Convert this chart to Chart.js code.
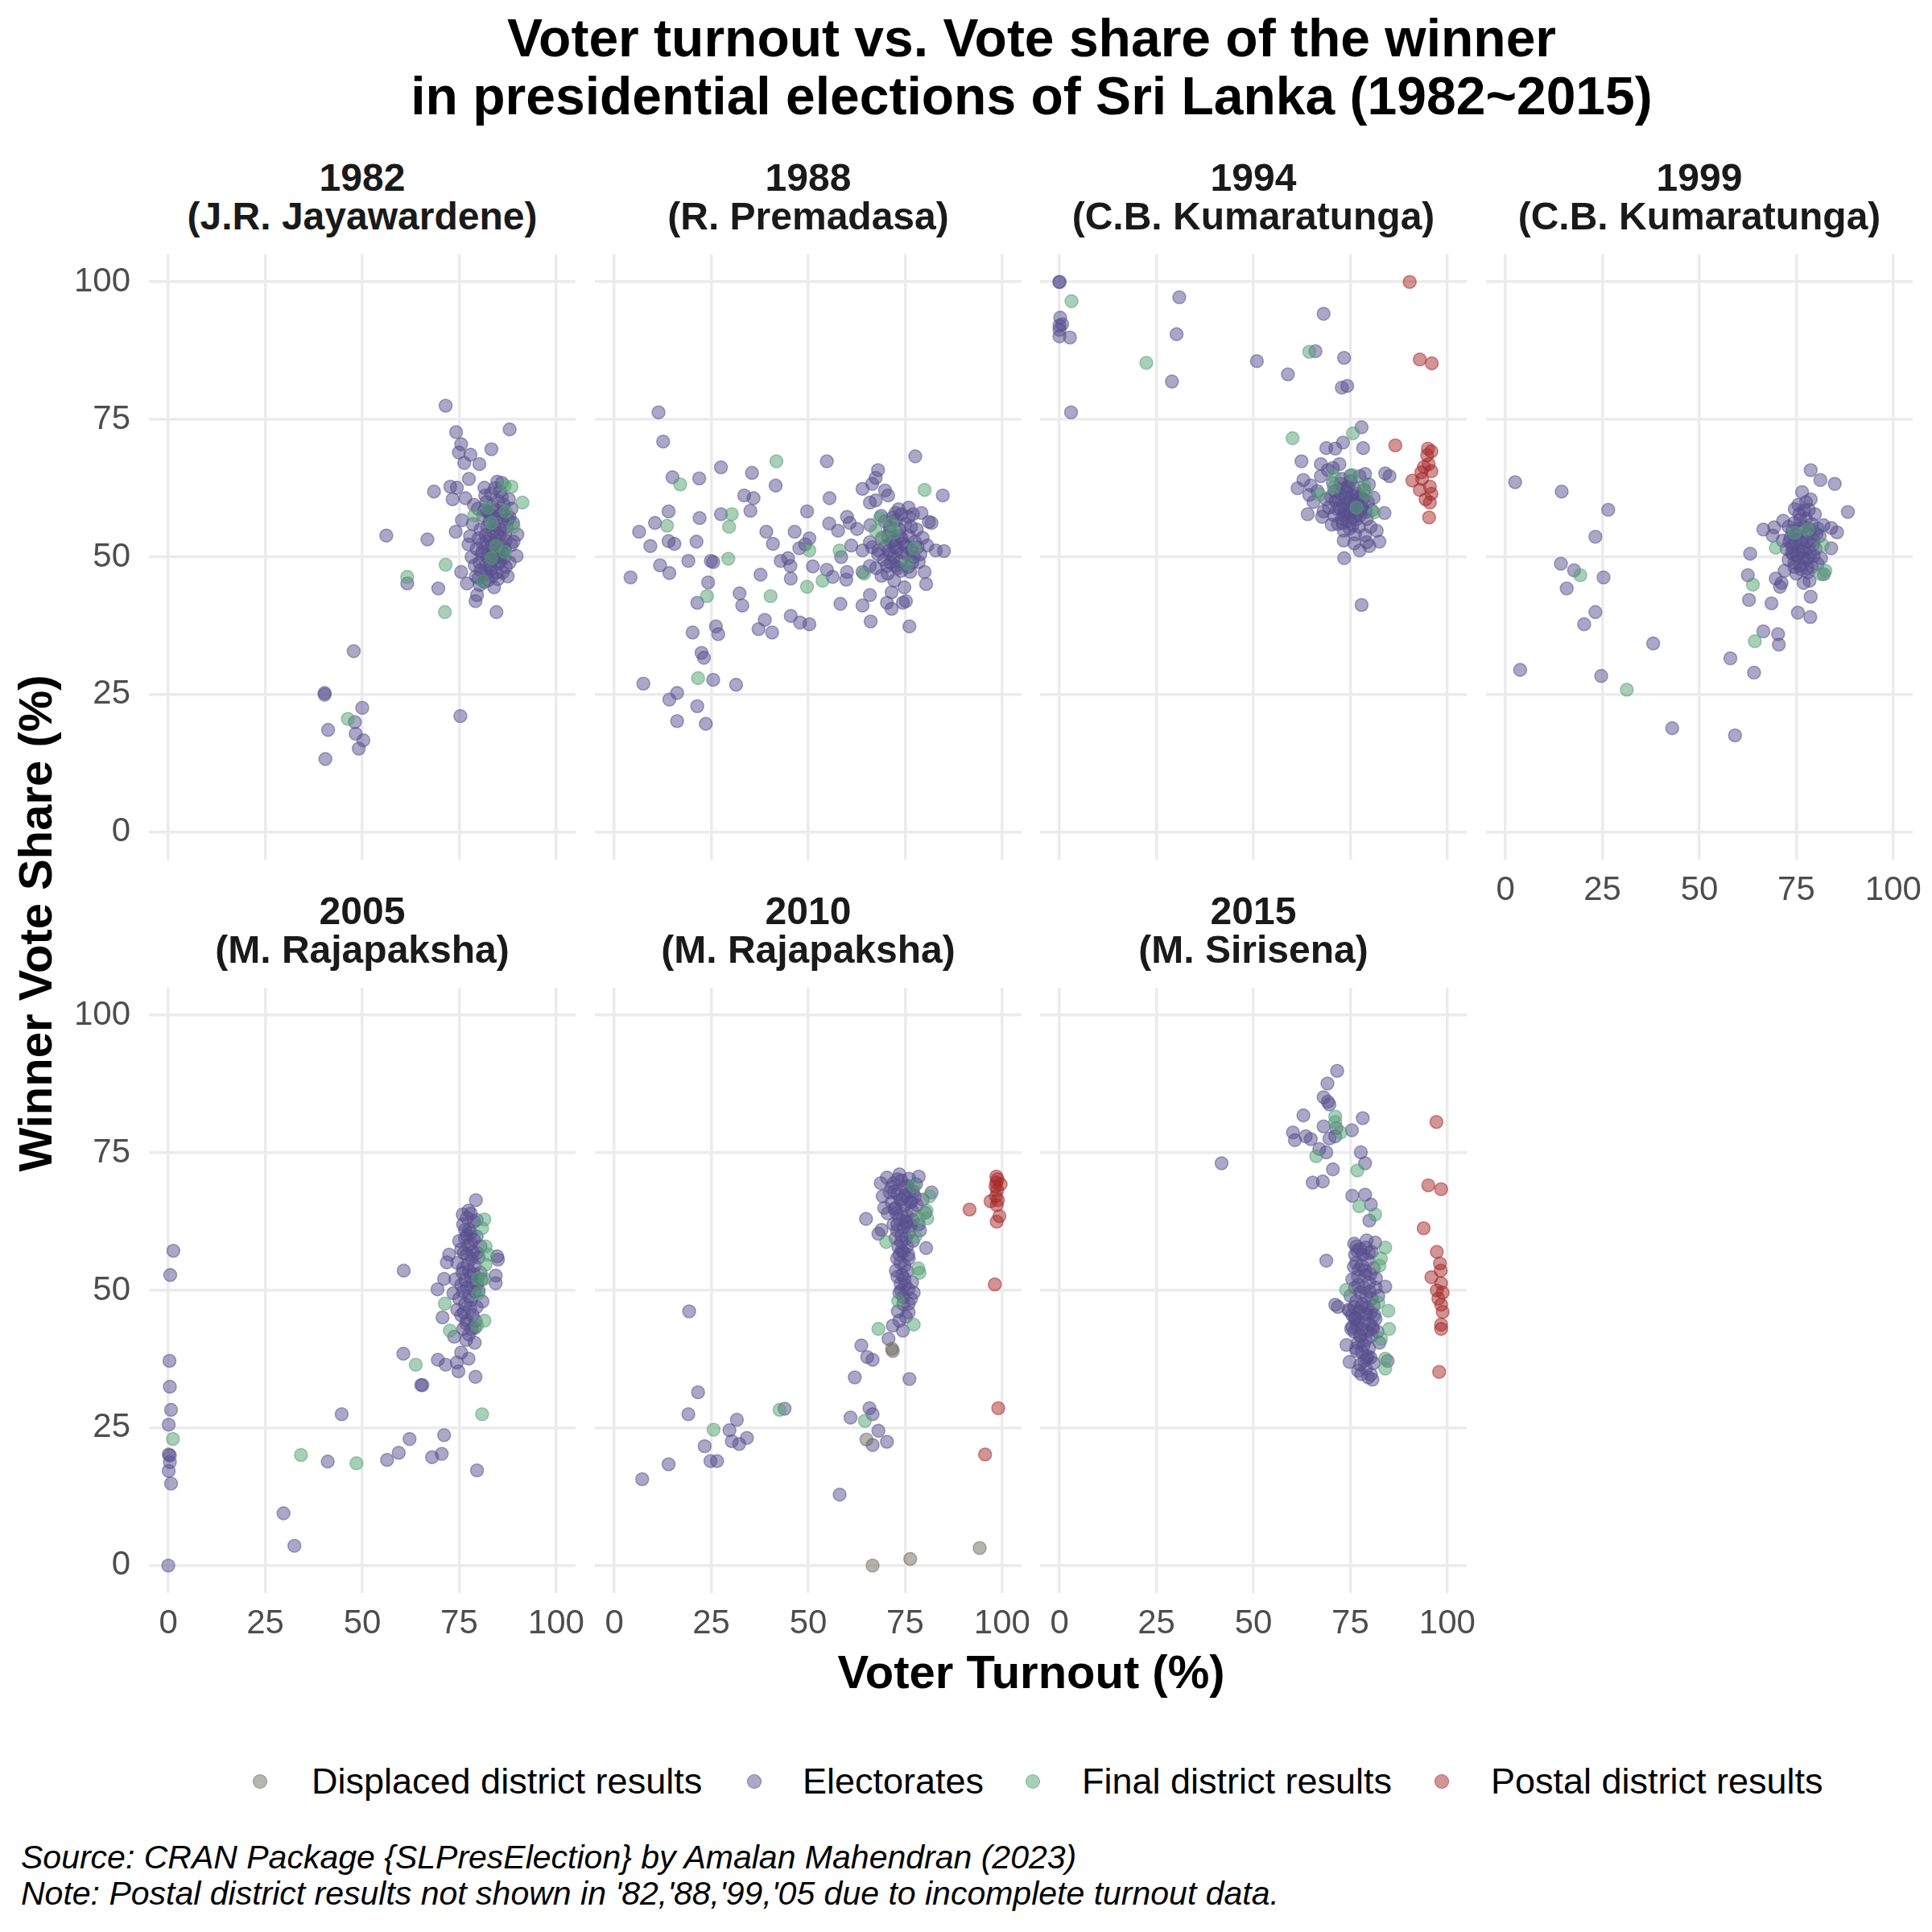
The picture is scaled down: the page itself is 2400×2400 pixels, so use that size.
<!DOCTYPE html>
<html>
<head>
<meta charset="utf-8">
<script src="https://cdn.jsdelivr.net/npm/chart.js@4.4.1/dist/chart.umd.min.js"></script>
<style>
  body { margin: 0; background: #fff; }
  #page { position: relative; width: 2400px; height: 2400px; font-family: "Liberation Sans", Arial, sans-serif; color: #000; overflow: hidden; }
  .txt { position: absolute; white-space: nowrap; }
  canvas { position: absolute; }
</style>
</head>
<body>
<div id="page"></div>
<script>
// facets
const years = ["1982", "1988", "1994", "1999", "2005", "2010", "2015"];
const winners = ["J.R. Jayawardene", "R. Premadasa", "C.B. Kumaratunga", "C.B. Kumaratunga", "M. Rajapaksha", "M. Rajapaksha", "M. Sirisena"];
const categories = ["Displaced district results", "Electorates", "Final district results", "Postal district results"];
const xTicks = [0, 25, 50, 75, 100];
const yTicks = [0, 25, 50, 75, 100];

// [turnout, winner share] pairs
const e1982 = [[71.5,77.5],[74.2,72.7],[88.0,73.2],[75.5,70.5],[74.9,69.0],[77.9,68.6],[83.3,69.6],[76.3,67.1],[80.2,66.9],[77.5,64.2],[68.5,61.9],[72.7,62.8],[74.4,62.6],[73.3,60.5],[76.6,60.7],[81.5,62.6],[84.8,63.7],[85.5,61.9],[56.2,53.9],[66.8,53.2],[75.7,56.7],[74.1,54.6],[77.4,52.3],[80.0,53.4],[90.0,54.1],[88.9,56.2],[87.8,60.5],[89.8,50.2],[75.5,47.3],[77.0,45.2],[80.3,44.9],[61.6,45.2],[69.6,44.3],[79.6,43.1],[79.2,42.0],[84.6,40.0],[47.8,32.9],[40.3,25.3],[40.3,25.0],[50.0,22.6],[48.1,20.0],[41.2,18.6],[48.3,17.9],[50.3,16.7],[49.1,15.2],[40.5,13.3],[75.3,21.1],
  [82.0,60.0],[83.5,59.2],[84.5,58.5],[85.8,57.8],[86.5,59.5],[81.2,57.5],[82.8,56.5],[84.0,55.8],[85.5,55.0],[87.2,55.5],[88.0,57.2],[80.5,55.0],[81.8,54.0],[83.0,53.2],[84.3,52.5],[85.8,52.0],[87.0,53.0],[88.4,52.2],[79.5,51.5],[80.8,50.6],[82.2,50.0],[83.6,49.4],[85.0,48.8],[86.5,49.8],[88.0,49.0],[79.0,48.5],[80.5,47.6],[82.0,47.0],[83.5,46.5],[85.0,46.0],[86.2,47.2],[78.2,50.0],[81.0,52.5],[83.8,51.0],[86.8,51.5],[84.8,54.2],[82.5,58.2],[86.0,61.0],[83.2,61.5],[79.8,58.8],[78.5,56.0],[87.5,46.5],[84.0,44.5],[81.5,45.5],[89.0,52.8],[77.8,53.8],[80.2,49.0],[85.3,50.3],[82.7,48.2],[79.3,46.5],[78.8,59.5],[81.7,61.2],[84.2,62.5],[86.0,63.5],[88.5,58.8],
  [81.5,58.5],[83.0,57.8],[84.6,57.0],[86.0,56.5],[82.2,55.5],[83.8,54.6],[85.4,53.8],[86.8,54.2],[82.0,52.8],[83.4,52.0],[84.9,51.4],[86.2,50.8],[81.0,51.0],[82.6,50.4],[84.1,49.8],[85.6,49.2],[87.0,48.2],[81.8,48.4],[83.2,47.8],[84.6,47.2],[80.0,46.2],[82.5,45.8],[86.3,58.2],[87.6,56.8],[85.0,60.2]];
const f1982 = [[86.7,63.0],[91.3,59.9],[82.4,59.0],[87.0,58.3],[78.9,57.6],[83.3,56.2],[86.8,50.9],[71.5,48.6],[61.6,46.4],[71.3,40.0],[46.3,20.6],[81.1,45.6],[83.3,49.8],[88.5,62.8],[84.5,52.0],[89.0,55.5]];

const e1988 = [[11.4,76.3],[12.6,71.0],[54.8,67.4],[77.6,68.3],[27.5,66.3],[35.5,65.3],[15.0,64.5],[21.9,64.3],[41.6,63.0],[68.0,65.8],[67.4,64.4],[66.5,63.3],[64.0,62.4],[69.8,62.1],[84.7,61.2],[33.5,61.2],[35.9,60.7],[55.5,60.7],[67.4,60.3],[65.9,59.9],[70.6,61.2],[35.1,58.4],[14.0,58.3],[22.0,57.1],[27.5,57.8],[10.5,56.2],[6.4,54.6],[9.3,52.0],[14.0,52.9],[15.5,52.4],[21.2,52.8],[39.2,54.6],[46.5,54.6],[40.9,52.4],[49.7,58.3],[55.4,56.1],[57.7,54.8],[60.0,57.3],[60.7,56.2],[62.6,55.1],[73.3,58.7],[75.9,59.0],[79.2,58.0],[81.1,56.4],[81.8,56.2],[72.6,56.6],[75.9,57.3],[71.1,54.8],[65.9,52.7],[74.1,53.4],[80.7,52.1],[82.9,51.2],[85.0,51.1],[78.9,50.5],[71.1,50.5],[68.1,51.2],[64.0,51.2],[61.1,52.1],[58.5,50.0],[50.3,53.4],[49.2,52.3],[47.7,51.6],[44.8,49.8],[42.9,49.3],[45.4,48.4],[45.5,46.1],[37.7,46.8],[51.2,48.3],[54.8,47.7],[56.3,46.4],[60.0,47.3],[59.8,45.9],[64.0,47.3],[68.9,46.6],[65.9,48.4],[70.3,48.4],[72.6,48.4],[76.3,47.3],[78.5,49.1],[80.0,47.3],[80.4,45.1],[72.2,45.7],[74.8,44.5],[71.5,43.6],[65.9,43.1],[70.3,41.7],[71.5,40.6],[75.2,42.0],[74.4,41.7],[64.0,41.2],[58.3,41.5],[66.1,38.3],[76.1,37.4],[4.2,46.3],[11.8,48.5],[14.2,47.1],[19.1,49.3],[24.9,49.3],[25.5,49.1],[24.2,45.4],[21.4,41.7],[32.3,43.4],[33.0,41.2],[26.2,37.4],[26.8,36.0],[20.2,36.3],[37.2,36.9],[38.8,38.6],[40.7,36.3],[45.5,39.3],[47.9,38.1],[50.3,37.8],[22.5,32.6],[23.1,31.7],[7.5,27.0],[25.5,27.7],[31.4,26.8],[16.2,25.3],[14.2,24.1],[21.4,22.9],[16.2,20.2],[23.6,19.7],
  [70.0,52.0],[71.5,52.8],[73.0,51.5],[74.5,52.5],[76.0,53.8],[77.5,52.8],[72.0,50.0],[73.8,49.2],[75.5,50.5],[69.5,49.5],[68.0,50.5],[66.5,51.8],[71.0,55.5],[73.5,55.0],[75.0,56.0],[78.0,55.0],[76.8,49.0],[74.0,47.5],[70.5,47.0],[67.5,48.0],[79.5,53.5],[72.5,58.0],[68.8,57.5],[66.0,55.8],[77.0,57.8],
  [69.0,53.5],[70.5,53.8],[72.2,53.0],[73.6,53.8],[75.2,52.0],[76.6,51.2],[78.2,51.8],[70.8,51.2],[72.4,51.8],[74.2,50.8],[71.2,49.0],[73.0,48.0],[75.8,48.2],[77.2,50.0],[69.8,56.5],[71.8,57.2],[74.0,57.8],[76.5,55.5]];
const f1988 = [[41.8,67.4],[17.0,63.2],[80.0,62.2],[30.3,57.8],[29.6,55.5],[13.6,55.7],[68.5,57.1],[71.5,56.1],[67.4,54.8],[77.4,51.6],[58.1,51.2],[50.3,51.2],[53.7,45.7],[49.7,44.6],[64.4,47.0],[75.5,48.8],[29.4,49.7],[23.9,42.9],[40.3,42.9],[21.6,28.0],[69.5,53.5],[72.0,54.5]];

const e1994 = [[0,100],[0,100],[0.2,93.5],[0,92.1],[0.7,92.3],[0,91.3],[0,90.1],[2.7,89.9],[30.9,97.2],[30.2,90.5],[29.0,81.9],[3.0,76.3],[68.1,94.2],[50.9,85.6],[58.9,83.2],[66.0,87.4],[73.4,86.2],[72.8,80.8],[74.2,81.1],[77.9,73.6],[78.3,69.8],[73.1,70.8],[68.8,69.8],[71.1,69.7],[62.4,67.4],[67.4,66.9],[72.2,66.9],[84.0,65.2],[85.1,64.7],[62.9,64.0],[61.4,62.5],[64.8,63.0],[64.4,61.3],[67.4,64.7],[69.2,65.8],[72.5,63.3],[74.0,61.9],[75.5,61.2],[77.4,64.7],[78.8,65.1],[68.8,60.5],[64.0,57.8],[68.1,58.3],[67.7,57.3],[70.2,55.9],[73.3,57.6],[74.8,58.3],[79.2,56.9],[83.8,58.0],[81.8,54.8],[73.3,54.8],[76.2,54.1],[73.3,53.0],[79.2,52.7],[82.5,52.8],[77.4,51.2],[79.9,52.0],[73.4,49.8],[77.9,41.3],
  [71.0,62.0],[72.0,60.5],[73.0,59.5],[74.5,60.0],[75.5,59.0],[76.5,60.2],[77.5,61.0],[78.5,62.2],[70.0,61.0],[71.5,58.8],[72.8,57.0],[74.2,56.5],[75.8,57.2],[76.8,58.0],[78.0,59.2],[79.5,60.0],[80.5,58.5],[70.5,63.5],[73.5,62.5],[75.0,63.8],[76.0,62.5],[69.5,59.0],[71.8,56.0],[74.8,55.2],[77.2,55.5],[78.8,54.0],[80.2,55.5],[76.0,52.5],[75.0,64.8],[72.8,64.2],[66.5,62.0],[65.5,60.0],[70.5,66.2],[79.8,63.2],[81.0,60.8],[74.0,58.0],
  [72.5,61.5],[73.8,60.8],[75.2,60.3],[76.2,59.6],[72.2,59.0],[73.6,58.4],[75.0,57.8],[76.4,56.8],[77.6,57.6],[71.2,60.2],[74.4,62.8],[76.8,61.5],[78.2,60.6],[73.0,56.2],[75.5,55.8],[77.8,58.8],[70.8,57.6],[79.0,58.2]];
const f1994 = [[3.1,96.5],[22.4,85.3],[64.4,87.3],[60.1,71.6],[75.7,72.5],[70.8,64.7],[70.7,62.6],[75.5,64.9],[78.6,63.0],[67.0,61.4],[76.6,59.0],[81.1,58.1],[79.0,61.5]];
const p1994 = [[90.3,100],[92.9,85.9],[96.0,85.2],[86.6,70.3],[95.0,69.7],[95.9,69.2],[95.2,66.9],[94.0,66.4],[93.3,65.4],[95.9,65.6],[91.0,63.9],[93.5,64.2],[92.9,62.2],[95.9,61.5],[94.4,60.5],[95.5,59.9],[95.3,57.2],[94.8,68.5],[95.5,62.8]];

const e1999 = [[2.5,63.6],[14.5,61.9],[26.5,58.6],[23.2,53.7],[14.3,48.8],[17.7,47.6],[25.3,46.3],[15.8,44.3],[23.2,40.0],[20.3,37.8],[38.1,34.3],[3.8,29.5],[24.7,28.4],[43.0,18.9],[59.2,17.6],[58.0,31.6],[64.1,29.0],[66.5,36.5],[70.3,36.0],[70.5,34.1],[62.8,42.2],[68.6,41.6],[62.5,46.7],[63.1,50.6],[70.8,44.6],[75.4,39.9],[78.6,39.1],[78.7,42.8],[66.5,55.0],[78.7,65.8],[81.2,64.0],[84.9,63.3],[76.5,61.8],[78.7,60.5],[77.5,60.0],[88.3,58.2],[74.6,58.7],[71.6,56.6],[69.3,55.4],[68.9,53.9],[85.5,54.5],[84.0,55.3],[84.0,51.6],[81.4,49.8],[82.1,46.9],[78.4,45.7],[76.9,45.3],[69.7,46.1],[71.2,45.3],
  [73.0,55.5],[74.5,56.2],[76.0,56.8],[77.5,57.0],[79.0,56.0],[80.5,55.2],[82.0,55.8],[73.5,53.5],[75.0,54.0],[76.5,53.2],[78.0,54.2],[79.5,53.0],[81.0,53.8],[72.5,51.5],[74.0,52.0],[75.5,51.2],[77.0,51.8],[78.5,50.8],[80.0,51.5],[73.0,49.5],[74.5,49.0],[76.0,48.5],[77.5,49.5],[79.0,48.2],[80.5,48.8],[72.0,47.5],[75.0,47.0],[78.0,47.2],[74.2,50.5],[76.8,50.0],[71.5,53.0],[79.8,57.8],[77.0,58.5],[75.5,59.5],
  [74.0,54.8],[75.5,55.2],[77.0,55.5],[78.5,55.0],[73.2,52.8],[74.8,53.0],[76.2,52.6],[77.8,52.8],[79.2,52.2],[73.8,50.8],[75.2,50.2],[76.5,51.0],[78.0,49.8],[79.5,50.2],[74.5,48.2],[76.2,47.8],[77.8,48.0],[75.8,57.8],[78.2,58.6],[80.2,54.2]];
const f1999 = [[19.3,46.7],[31.3,25.9],[64.3,34.7],[63.8,45.0],[69.7,51.7],[74.6,54.4],[81.8,52.2],[81.4,46.9],[82.5,47.5],[78.0,55.0]];

const e2005 = [[1.3,57.2],[0.5,52.8],[0.3,37.2],[0.4,32.5],[0.7,28.3],[0.1,25.6],[0.1,20.2],[0.4,20.0],[0.4,18.8],[0.1,17.2],[0.7,14.9],[0,0],[29.7,9.5],[32.5,3.6],[41.1,18.9],[44.7,27.5],[56.4,19.2],[59.4,20.5],[62.2,23.0],[68.0,19.7],[70.5,20.3],[71.1,23.7],[79.6,17.3],[60.7,53.6],[60.6,38.5],[65.2,32.8],[65.5,32.8],[69.5,37.4],[71.5,36.5],[74.8,35.3],[74.4,36.9],[77.4,37.6],[79.2,34.3],[70.7,45.1],[69.4,50.2],[73.7,41.6],[75.5,38.7],[79.3,66.4],[75.9,63.8],[77.4,64.5],[84.8,56.2],[85.0,55.6],[72.4,56.5],[71.8,55.1],[84.4,52.7],[84.4,51.3],[71.1,52.1],
  [76.0,62.0],[77.5,61.0],[78.8,62.5],[76.5,59.5],[78.0,58.5],[79.5,59.8],[75.5,57.5],[77.0,56.5],[78.5,57.0],[80.0,56.0],[74.5,55.0],[76.0,54.0],[77.5,53.5],[79.0,54.5],[80.5,53.2],[74.0,52.0],[75.5,51.0],[77.0,50.5],[78.5,51.5],[80.0,50.0],[75.0,48.5],[76.5,47.5],[78.0,48.2],[79.5,47.0],[75.5,45.5],[77.0,44.5],[78.5,45.5],[76.0,43.0],[77.5,42.0],[79.0,43.2],[74.5,46.5],[81.0,48.0],[73.5,49.5],[80.8,52.0],[79.0,40.5],[76.8,41.0],[78.0,64.0],[77.0,60.0],
  [76.5,61.0],[78.0,60.5],[77.2,58.2],[78.8,59.2],[76.2,56.8],[78.2,55.8],[79.6,56.8],[75.8,53.2],[77.2,54.8],[78.8,53.0],[76.6,51.8],[78.0,52.5],[79.5,51.2],[76.0,49.8],[77.5,49.0],[79.0,49.8],[76.2,46.0],[77.8,46.8],[79.2,44.5],[76.8,44.0],[78.2,43.0],[77.0,63.2],[79.5,62.8],[75.0,59.0],[80.5,58.0]];
const f2005 = [[1.2,23.0],[34.2,20.1],[48.5,18.6],[80.9,27.5],[63.8,36.5],[71.3,47.6],[72.6,42.7],[81.5,62.9],[80.9,61.3],[81.8,58.0],[81.8,54.7],[81.5,52.1],[79.8,52.1],[81.5,44.5],[79.6,43.6],[82.5,56.5],[80.0,49.5]];

const e2010 = [[70.3,70.5],[73.5,71.1],[78.5,70.7],[68.7,69.5],[71.5,68.8],[81.8,67.8],[69.2,67.1],[69.6,65.0],[72.2,64.8],[74.1,66.6],[76.3,66.0],[80.2,64.1],[64.9,63.0],[68.9,61.0],[68.1,60.3],[72.9,60.9],[75.5,62.3],[78.8,60.9],[80.4,57.7],[74.1,57.2],[75.9,55.8],[72.9,55.8],[72.6,53.6],[74.8,52.1],[73.5,49.6],[77.2,49.6],[75.9,47.6],[73.1,46.2],[75.9,46.0],[71.8,43.6],[74.4,42.7],[70.7,41.2],[63.7,40.0],[65.2,37.9],[66.6,37.4],[62.0,34.2],[76.1,33.9],[65.8,28.6],[66.6,27.5],[60.9,26.9],[68.1,24.5],[70.3,22.5],[66.6,21.9],[58.1,12.9],[43.9,28.5],[19.3,46.2],[21.6,31.5],[19.1,27.5],[31.6,26.5],[29.7,24.6],[30.3,22.6],[32.2,22.1],[34.2,23.2],[23.3,21.7],[24.8,19.0],[26.5,19.0],[14.0,18.4],[7.2,15.7],
  [72.0,69.5],[74.0,70.0],[75.5,69.0],[77.0,68.0],[73.0,67.5],[75.0,67.2],[76.5,66.0],[78.0,65.5],[72.5,65.0],[74.0,64.0],[75.5,63.5],[77.0,62.8],[73.0,62.0],[74.5,61.5],[76.0,60.5],[72.5,59.5],[74.0,58.8],[75.5,58.0],[77.0,59.0],[73.5,56.5],[74.8,54.5],[73.0,52.5],[75.0,51.0],[74.0,50.0],[76.5,48.5],[74.5,47.5],[71.0,67.8],[79.5,66.5],[78.5,62.0],[70.5,64.0],
  [73.0,70.2],[74.8,68.8],[76.0,70.3],[72.2,68.0],[73.8,66.5],[76.2,67.8],[77.5,67.0],[72.8,64.0],[74.8,65.5],[76.8,64.5],[73.5,63.0],[75.2,62.5],[76.5,61.8],[74.0,60.0],[75.2,59.5],[73.2,58.0],[74.5,57.0],[75.8,56.5],[73.8,55.0],[75.5,53.5],[74.2,52.8],[73.8,51.2],[75.8,50.2],[74.5,48.8],[75.2,45.2],[73.5,44.5],[76.8,51.5],[72.0,62.0],[77.8,69.3],[71.5,66.0]];
const f2010 = [[77.2,69.0],[81.3,67.1],[80.7,63.1],[78.5,63.1],[77.6,59.8],[70.1,58.8],[78.4,54.0],[78.7,53.2],[73.2,48.1],[77.2,43.8],[68.1,43.0],[64.6,26.3],[42.6,28.3],[25.6,24.7],[80.5,64.5]];
const p2010 = [[98.5,70.7],[98.5,69.6],[99.6,69.3],[98.7,68.2],[98.4,67.1],[98.9,66.4],[97.0,66.2],[91.6,64.7],[99.3,63.5],[98.6,62.5],[98.1,51.1],[99.0,28.6],[95.6,20.2],[98.8,70.2],[98.3,68.9],[98.6,65.5]];
const d2010 = [[71.6,39.4],[65.0,22.9],[66.6,0],[76.3,1.2],[94.2,3.2],[71.8,39.0]];

const e2015 = [[71.6,89.9],[69.1,87.6],[68.1,85.1],[69.2,84.3],[69.6,83.8],[62.9,81.8],[78.2,81.3],[68.1,79.8],[71.4,79.5],[75.4,79.1],[60.2,78.7],[60.7,77.3],[63.5,78.0],[64.8,77.5],[69.6,77.6],[71.1,78.0],[67.0,75.7],[68.8,75.1],[77.7,75.1],[78.8,73.1],[70.5,72.0],[65.3,69.6],[67.9,69.8],[41.8,73.1],[75.5,67.2],[78.8,67.4],[80.3,65.6],[79.9,62.7],[68.8,55.4],[79.2,59.1],[76.6,58.0],[81.4,58.7],[76.2,56.5],[75.9,54.3],[78.8,53.6],[77.0,52.5],[79.9,51.4],[84.0,50.7],[71.1,47.4],[71.8,47.0],[74.8,46.3],[77.7,47.0],[76.2,44.9],[79.2,45.6],[80.7,43.4],[75.5,43.4],[77.7,41.6],[74.0,40.1],[76.6,39.0],[74.8,37.0],[79.2,37.6],[84.6,37.2],[77.0,35.4],[80.3,34.7],[80.7,33.8],[82.5,40.5],
  [76.0,58.5],[77.5,57.5],[79.0,57.8],[80.5,57.0],[76.5,55.0],[78.0,54.5],[79.5,55.5],[81.0,54.0],[75.5,52.0],[77.0,51.0],[78.5,50.5],[80.0,49.8],[81.5,50.5],[75.0,49.0],[76.5,48.0],[78.0,47.5],[79.5,46.8],[81.0,47.2],[75.5,45.5],[77.0,44.5],[78.5,44.0],[80.0,43.8],[81.5,44.8],[76.0,42.5],[77.5,41.8],[79.0,41.0],[80.5,41.8],[76.5,39.5],[78.0,38.8],[79.5,38.0],[77.5,36.5],[79.0,35.8],[81.0,36.8],[75.2,43.0],[82.0,42.5],[74.5,46.5],[82.2,49.0],
  [76.8,57.2],[78.2,56.5],[79.8,56.8],[77.2,53.8],[78.8,52.8],[80.2,53.0],[76.2,50.5],[77.6,49.6],[79.0,49.0],[80.5,48.5],[76.0,47.0],[77.4,46.2],[78.8,45.8],[80.3,46.0],[76.6,43.8],[78.0,43.0],[79.4,42.6],[80.8,43.0],[77.0,40.5],[78.4,40.0],[79.8,39.5],[78.6,37.2],[80.2,37.8],[77.8,34.8],[79.6,34.2],[76.2,45.0],[81.2,45.5],[81.6,52.2]];
const f2015 = [[71.1,81.6],[71.1,80.6],[72.5,78.7],[66.2,74.4],[76.8,71.8],[77.3,65.3],[81.4,63.8],[84.0,57.8],[82.9,55.8],[82.5,54.5],[73.9,50.1],[84.8,46.3],[85.0,43.0],[82.9,41.2],[84.0,37.6],[84.0,35.8],[82.2,47.8]];
const p2015 = [[97.2,80.6],[95.1,69.1],[98.4,68.4],[93.9,61.3],[97.3,57.0],[98.1,54.9],[98.3,53.6],[95.9,52.4],[98.4,51.3],[97.3,50.0],[98.8,49.6],[97.7,48.5],[98.4,47.4],[98.8,46.1],[98.4,43.8],[98.4,43.0],[97.9,35.2]];

// per facet: [displaced, electorates, final, postal]
const series = [
  [[], e1982, f1982, []],
  [[], e1988, f1988, []],
  [[], e1994, f1994, p1994],
  [[], e1999, f1999, []],
  [[], e2005, f2005, []],
  [d2010, e2010, f2010, p2010],
  [[], e2015, f2015, p2015]
];

// styling
const catColors = ["110,106,94", "88,80,141", "84,160,116", "165,42,42"];
const ALPHA = 0.5;
const PANEL_X0 = 185, PANEL_DX = 553.6, PANEL_W = 530;
const PANEL_Y0 = 316, PANEL_DY = 911, PANEL_H = 752;
const Y_AXIS_W = 90, X_AXIS_H = 70, PAD_T = 60, PAD_R = 40;

Chart.defaults.font.family = '"Liberation Sans", Arial, sans-serif';
const page = document.getElementById("page");

function addText(text, css) {
  const d = document.createElement("div");
  d.className = "txt";
  d.textContent = text;
  d.style.cssText += css;
  page.appendChild(d);
  return d;
}

function makePanel(i) {
  const col = i % 4, row = Math.floor(i / 4);
  const left = Math.round(PANEL_X0 + col * PANEL_DX);
  const top = PANEL_Y0 + row * PANEL_DY;
  const showY = col === 0;
  const showX = row === 1 || col === 3;

  // strip label
  const strip = document.createElement("div");
  strip.className = "txt";
  strip.style.cssText = `left:${left}px;top:${top - 119}px;width:${PANEL_W}px;text-align:center;font-weight:bold;font-size:48px;line-height:48px;color:#1a1a1a;`;
  strip.innerHTML = years[i] + "<br>(" + winners[i] + ")";
  page.appendChild(strip);

  const canvas = document.createElement("canvas");
  canvas.width = Y_AXIS_W + PANEL_W + PAD_R;
  canvas.height = PAD_T + PANEL_H + X_AXIS_H;
  canvas.style.left = (left - Y_AXIS_W) + "px";
  canvas.style.top = (top - PAD_T) + "px";
  page.appendChild(canvas);

  const datasets = [];
  // draw order: first dataset ends up on top
  [0, 3, 2, 1].forEach(k => {
    datasets.push({
      label: categories[k],
      data: series[i][k].map(p => ({ x: p[0], y: p[1] })),
      backgroundColor: `rgba(${catColors[k]},${ALPHA})`,
      borderColor: `rgba(${catColors[k]},${ALPHA})`,
      borderWidth: 1.6,
      pointRadius: 8,
      pointHoverRadius: 8
    });
  });

  const grid = { color: "#EBEBEB", lineWidth: 3.5, drawTicks: false };
  new Chart(canvas, {
    type: "scatter",
    data: { datasets: datasets },
    options: {
      responsive: false,
      devicePixelRatio: 1,
      animation: false,
      events: [],
      layout: { padding: { top: PAD_T, right: PAD_R, bottom: 0, left: 0 }, autoPadding: false },
      plugins: { legend: { display: false }, tooltip: { enabled: false } },
      scales: {
        x: {
          type: "linear", min: -5, max: 105,
          grid: grid,
          border: { display: false },
          afterBuildTicks: s => { s.ticks = xTicks.map(v => ({ value: v })); },
          afterFit: s => { s.height = X_AXIS_H; },
          ticks: { display: showX, color: "#4D4D4D", font: { size: 42 }, padding: 13, maxRotation: 0, autoSkip: false }
        },
        y: {
          type: "linear", min: -5, max: 105,
          grid: grid,
          border: { display: false },
          afterBuildTicks: s => { s.ticks = yTicks.map(v => ({ value: v })); },
          afterFit: s => { s.width = Y_AXIS_W; },
          ticks: { display: showY, color: "#4D4D4D", font: { size: 42 }, padding: 23, autoSkip: false }
        }
      }
    }
  });
}

for (let i = 0; i < years.length; i++) makePanel(i);

// titles
const title = document.createElement("div");
title.className = "txt";
title.style.cssText = "left:0;width:2563px;top:11px;text-align:center;font-weight:bold;font-size:66px;line-height:72px;color:#000;";
title.innerHTML = "Voter turnout vs. Vote share of the winner<br>in presidential elections of Sri Lanka (1982~2015)";
page.appendChild(title);

addText("Voter Turnout (%)", "left:0;width:2562px;top:2048px;text-align:center;font-weight:bold;font-size:58px;line-height:58px;");
addText("Winner Vote Share (%)", "left:-406px;width:900px;top:1118px;text-align:center;font-weight:bold;font-size:58px;line-height:58px;transform:rotate(-90deg);");

// legend
const legendDotX = [323, 937, 1283, 1791];
const legendTextX = [387, 997, 1344, 1852];
categories.forEach((c, k) => {
  const dot = document.createElement("div");
  dot.style.cssText = `position:absolute;left:${legendDotX[k] - 9}px;top:${2213 - 9}px;width:18px;height:18px;border-radius:50%;box-sizing:border-box;background:rgba(${catColors[k]},${ALPHA});border:1.6px solid rgba(${catColors[k]},${ALPHA});`;
  page.appendChild(dot);
  addText(c, `left:${legendTextX[k]}px;top:2188px;font-size:45px;line-height:50px;`);
});

// caption
const cap = document.createElement("div");
cap.className = "txt";
cap.style.cssText = "left:26px;top:2285px;font-style:italic;font-size:41px;line-height:45px;";
cap.innerHTML = "Source: CRAN Package {SLPresElection} by Amalan Mahendran (2023)<br>Note: Postal district results not shown in '82,'88,'99,'05 due to incomplete turnout data.";
page.appendChild(cap);
</script>
</body>
</html>
